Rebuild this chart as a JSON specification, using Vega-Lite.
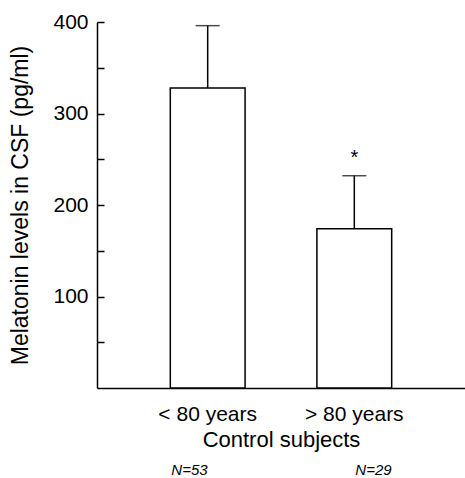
{
  "$schema": "https://vega.github.io/schema/vega-lite/v6.json",
  "width": 368,
  "height": 366,
  "autosize": {"type": "none"},
  "padding": {"left": 97, "top": 22, "right": 0, "bottom": 90},
  "background": "white",
  "config": {
    "view": {"stroke": null},
    "font": "Liberation Sans",
    "axis": {"domainColor": "black", "domainWidth": 1.5, "tickColor": "black", "labelColor": "black", "titleColor": "black", "grid": false, "labelFont": "Liberation Sans", "titleFont": "Liberation Sans", "titleFontWeight": "normal"}
  },
  "data": {
    "values": [
      {"group": "< 80 years", "n": "N=53", "mean": 328, "hi": 396, "sig": ""},
      {"group": "> 80 years", "n": "N=29", "mean": 174, "hi": 232, "sig": "*"}
    ]
  },
  "resolve": {"scale": {"x": "independent"}, "axis": {"x": "independent"}},
  "layer": [
    {
      "encoding": {
        "x": {
          "field": "group", "type": "nominal", "sort": null,
          "scale": {"paddingInner": 0.49, "paddingOuter": 0.5},
          "axis": {"orient": "bottom", "title": "Control subjects", "labelAngle": 0, "ticks": false, "labelFontSize": 21, "labelPadding": 15, "titleFontSize": 22, "titlePadding": 5}
        }
      },
      "layer": [
        {
          "mark": {"type": "rule", "color": "black", "strokeWidth": 1.5},
          "encoding": {
            "y": {"field": "mean", "type": "quantitative"},
            "y2": {"field": "hi"}
          }
        },
        {
          "mark": {"type": "tick", "color": "black", "size": 24, "thickness": 1.5},
          "encoding": {
            "y": {"field": "hi", "type": "quantitative"}
          }
        },
        {
          "mark": {"type": "bar", "fill": "white", "stroke": "black", "strokeWidth": 1.5},
          "encoding": {
            "y": {
              "field": "mean", "type": "quantitative",
              "scale": {"domain": [0, 400], "nice": false},
              "axis": {
                "title": "Melatonin levels in CSF (pg/ml)",
                "values": [50, 100, 150, 200, 250, 300, 350, 400],
                "labelExpr": "datum.value % 100 == 0 ? datum.label : ''",
                "tickSize": -7, "tickWidth": 1.5,
                "labelFontSize": 21, "labelPadding": 16,
                "titleFontSize": 23, "titlePadding": 20
              }
            }
          }
        },
        {
          "mark": {"type": "text", "fontSize": 20, "dy": -12, "baseline": "alphabetic", "color": "black", "font": "Liberation Sans"},
          "encoding": {
            "y": {"field": "hi", "type": "quantitative"},
            "text": {"field": "sig"}
          }
        }
      ]
    },
    {
      "mark": {"type": "text", "opacity": 0},
      "encoding": {
        "x": {
          "field": "n", "type": "nominal", "sort": null,
          "scale": {"paddingInner": 0.49, "paddingOuter": 0.5},
          "axis": {"orient": "bottom", "title": null, "labelAngle": 0, "domain": false, "ticks": false, "labelFontSize": 15, "labelFontStyle": "italic", "labelPadding": 2, "offset": 72}
        },
        "text": {"field": "n"}
      }
    }
  ]
}
